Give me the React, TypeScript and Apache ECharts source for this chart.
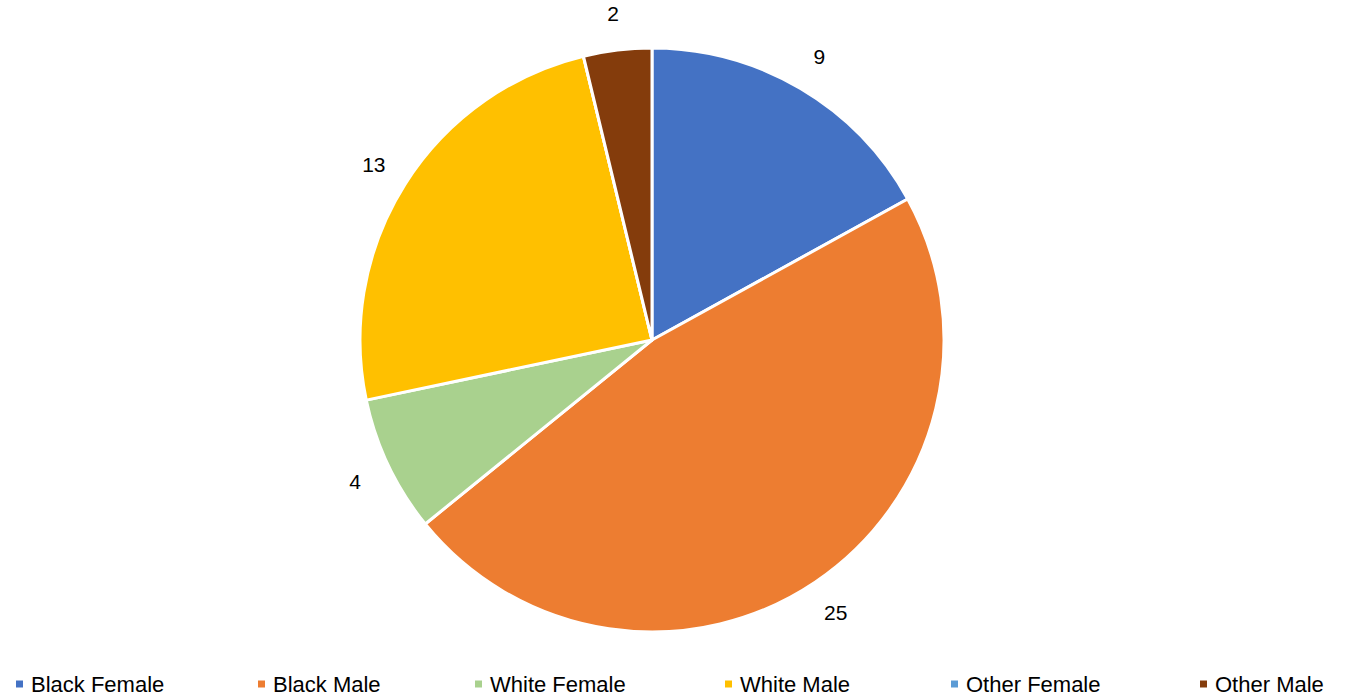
import React, { useEffect, useRef } from "react";
import * as echarts from "echarts";

const categories = ["Black Female", "Black Male", "White Female", "White Male", "Other Female", "Other Male"];
const values = [9, 25, 4, 13, 0, 2];
const colors = ["#4472C4", "#ED7D31", "#A9D18E", "#FFC000", "#5B9BD5", "#843C0C"];
const legendLeft = [9, 251, 468, 718, 944, 1193];

const FONT = "'Liberation Sans', Arial, sans-serif";

export default function App() {
  const ref = useRef<HTMLDivElement>(null);
  useEffect(() => {
    if (!ref.current) return;
    const chart = echarts.init(ref.current, undefined, { renderer: "svg" });
    const data = categories.map((name, i) => ({ name, value: values[i], itemStyle: { color: colors[i] } }));
    chart.setOption({
      animation: false,
      backgroundColor: "#ffffff",
      legend: categories.map((name, i) => ({
        data: [name],
        left: legendLeft[i],
        top: 668,
        icon: "rect",
        itemWidth: 9,
        itemHeight: 9,
        selectedMode: false,
        textStyle: { fontFamily: FONT, fontSize: 22, color: "#000", padding: [0, 0, 0, 2] },
      })),
      series: [
        {
          type: "pie",
          center: [652, 340],
          radius: [0, 292],
          startAngle: 90,
          clockwise: true,
          data,
          itemStyle: { borderColor: "#ffffff", borderWidth: 3 },
          label: { show: false },
          labelLine: { show: false },
          silent: true,
        },
        {
          type: "pie",
          center: [652, 340],
          radius: [296, 356],
          startAngle: 90,
          clockwise: true,
          data: categories.map((name, i) => ({ name, value: values[i] })),
          itemStyle: { color: "rgba(0,0,0,0)" },
          label: {
            show: true,
            position: "inside",
            fontFamily: FONT,
            fontSize: 21,
            color: "#000",
            formatter: (p: any) => (p.value === 0 ? "" : String(p.value)),
          },
          labelLine: { show: false },
          emphasis: { disabled: true },
          silent: true,
        },
      ],
    });
    return () => chart.dispose();
  }, []);
  return <div ref={ref} style={{ position: "fixed", left: 0, top: 0, width: 1351, height: 698 }} />;
}
